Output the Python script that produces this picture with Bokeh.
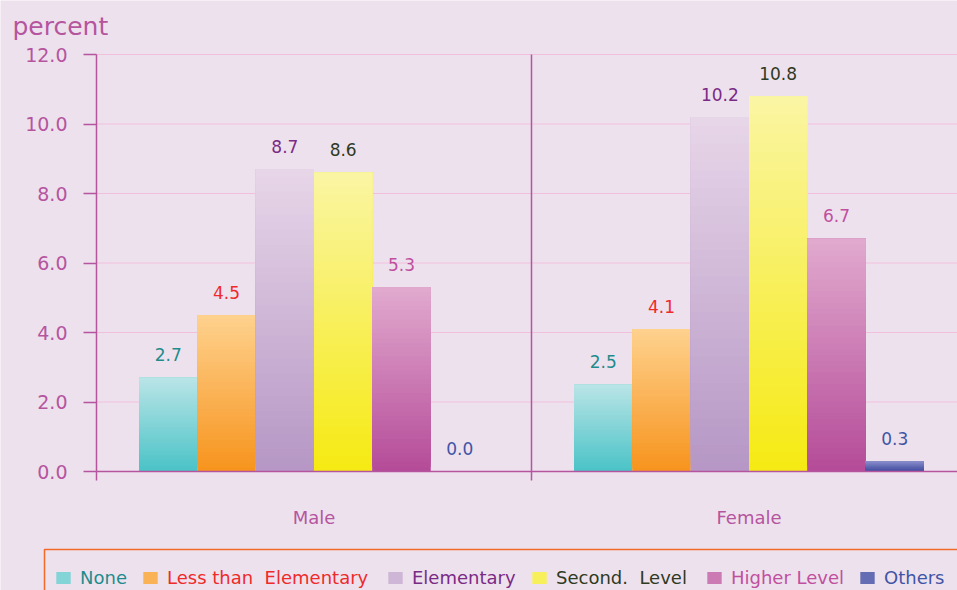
import numpy as np
from bokeh.plotting import figure
from bokeh.core.properties import value
from bokeh.models import (ColumnDataSource, LabelSet, Label, Legend, LegendItem,
                          FixedTicker, BoxAnnotation, NumeralTickFormatter)
from bokeh.embed import file_html
from bokeh.resources import INLINE

# ---------------- data ----------------
groups = ["Male", "Female"]
series = ["None", "Less than  Elementary", "Elementary", "Second.  Level",
          "Higher Level", "Others"]
male = [2.7, 4.5, 8.7, 8.6, 5.3, 0.0]
female = [2.5, 4.1, 10.2, 10.8, 6.7, 0.3]
y_ticks = [0, 2, 4, 6, 8, 10, 12]

# ---------------- styles ----------------
bottom_colors = ["#4BC3C7", "#F7941E", "#B697C5", "#F6EA14", "#B54C99", "#3F4A9E"]
top_colors = ["#B9E4E6", "#FED18D", "#E7D5E8", "#FAF5A2", "#E1A9CE", "#8A8DCB"]
label_colors = ["#1E8C8C", "#EE2A2A", "#7B2A85", "#2E3A22", "#C0509E", "#3F55A5"]
BG = "#EEE1EE"
AX = "#B5559E"
GRID = "#F1BFDC"
FONT = "DejaVu Sans"

W, H = 957, 590
ORIGIN_X, ORIGIN_Y = 96, 471      # pixel position of (0, 0)
PX_PER_GROUP = 435.0
PX_PER_UNIT = 34.75


def dx(px):
    return (px - ORIGIN_X) / PX_PER_GROUP


def dy(py):
    return (ORIGIN_Y - py) / PX_PER_UNIT


bar_w = 58.3 / PX_PER_GROUP
group_centers = [i + 0.5 for i in range(len(groups))]

p = figure(width=W, height=H, output_backend="svg", toolbar_location=None,
           x_range=(dx(0), dx(W)), y_range=(dy(H), dy(0)),
           min_border=0, min_border_left=0, min_border_right=0,
           min_border_top=0, min_border_bottom=0)
p.background_fill_color = BG
p.border_fill_color = BG
p.outline_line_color = None
p.grid.visible = False

# grid lines (from the y ticks) and group separator
gy = [t for t in y_ticks if t > 0]
p.segment(x0=[0] * len(gy), x1=[len(groups)] * len(gy), y0=gy, y1=gy,
          line_color=GRID, line_width=1)
seps = list(range(1, len(groups)))
p.segment(x0=seps, x1=seps, y0=[0] * len(seps), y1=[y_ticks[-1]] * len(seps),
          line_color=AX, line_width=1.5)


def hex2rgb(h):
    h = h.lstrip("#")
    return np.array([int(h[i:i + 2], 16) for i in (0, 2, 4)], dtype=float)


def rgb2hex(c):
    return "#%02x%02x%02x" % tuple(int(round(v)) for v in c)


N = 40
legend_renderers = []
label_x, label_y, label_t, label_c = [], [], [], []
for si, name in enumerate(series):
    vals = [male[si], female[si]]
    xs = [gc + (si - 2.5) * bar_w for gc in group_centers]
    cb, ct = hex2rgb(bottom_colors[si]), hex2rgb(top_colors[si])
    mid = rgb2hex((cb + ct) / 2)
    r = p.vbar(x=xs, top=vals, bottom=0, width=bar_w, fill_color=mid,
               line_color=None)
    legend_renderers.append(r)
    # vertical gradient made of stacked slices
    L, R, B, T, C = [], [], [], [], []
    for x, v in zip(xs, vals):
        if v <= 0:
            continue
        for k in range(N):
            f = k / (N - 1)
            L.append(x - bar_w / 2)
            R.append(x + bar_w / 2)
            B.append(v * k / N)
            T.append(v)
            C.append(rgb2hex(cb + (ct - cb) * f))
    if L:
        p.quad(left=L, right=R, bottom=B, top=T, fill_color=C, line_color=None)
    for x, v in zip(xs, vals):
        label_x.append(x)
        label_y.append(v)
        label_t.append("%.1f" % v)
        label_c.append(label_colors[si])

lsrc = ColumnDataSource(dict(x=label_x, y=label_y, t=label_t, c=label_c))
p.add_layout(LabelSet(x="x", y="y", text="t", source=lsrc, text_color="c",
                      y_offset=23, text_align="center", text_baseline="middle",
                      text_font=value(FONT), text_font_size=value("17px")))

# axes drawn at fixed data locations
p.yaxis.fixed_location = 0
p.yaxis.bounds = (y_ticks[0], y_ticks[-1])
p.yaxis.ticker = FixedTicker(ticks=y_ticks)
p.yaxis.formatter = NumeralTickFormatter(format="0.0")
p.yaxis.major_tick_out = 13
p.yaxis.major_tick_in = 0
p.yaxis.minor_tick_out = 0
p.yaxis.minor_tick_in = 0
p.yaxis.major_label_standoff = 16
p.yaxis.axis_line_color = AX
p.yaxis.axis_line_width = 1.5
p.yaxis.major_tick_line_color = AX
p.yaxis.major_tick_line_width = 1.5
p.yaxis.major_label_text_color = AX
p.yaxis.major_label_text_font = FONT
p.yaxis.major_label_text_font_size = "19px"

p.xaxis.fixed_location = 0
p.xaxis.bounds = (0, len(groups))
p.xaxis.ticker = FixedTicker(ticks=group_centers,
                             minor_ticks=list(range(len(groups) + 1)))
p.xaxis.major_label_overrides = {gc: g for gc, g in zip(group_centers, groups)}
p.xaxis.major_tick_out = 0
p.xaxis.major_tick_in = 0
p.xaxis.minor_tick_out = 9
p.xaxis.minor_tick_in = 0
p.xaxis.major_label_standoff = 26
p.xaxis.axis_line_color = AX
p.xaxis.axis_line_width = 1.5
p.xaxis.minor_tick_line_color = AX
p.xaxis.minor_tick_line_width = 1.5
p.xaxis.major_label_text_color = AX
p.xaxis.major_label_text_font = FONT
p.xaxis.major_label_text_font_size = "18px"

# axis title
p.add_layout(Label(x=dx(12), y=dy(26), text="percent", text_color=AX,
                   text_font=FONT, text_font_size="25px",
                   text_baseline="alphabetic"))

# legend box
p.add_layout(BoxAnnotation(left=dx(44), right=dx(W + 40), top=dy(549),
                           bottom=dy(H + 40), fill_color=None, fill_alpha=0,
                           line_color="#F26A2A", line_alpha=1, line_width=1.5))

sq_x = [54, 141, 386, 530, 705, 858]
for si, name in enumerate(series):
    lg = Legend(items=[LegendItem(label=name, renderers=[legend_renderers[si]])],
                location=(sq_x[si], 2), padding=0, margin=0,
                border_line_color=None, background_fill_alpha=0,
                glyph_width=18, glyph_height=15, label_standoff=8,
                label_height=15, label_text_color=label_colors[si],
                label_text_font=FONT, label_text_font_size="18px")
    p.add_layout(lg)

open("out.html", "w").write(file_html(p, INLINE))
